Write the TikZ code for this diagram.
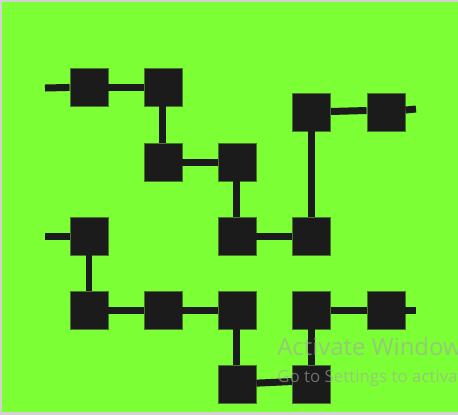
\documentclass[tikz,border=0pt]{standalone}
\usepackage{fontspec}
\newfontfamily\wmfont{Open Sans}
\definecolor{boardgreen}{RGB}{124,255,52}
\definecolor{blockblack}{RGB}{27,27,27}
\definecolor{blockedge}{RGB}{70,120,45}
\definecolor{wmgray}{RGB}{165,165,165}
\begin{document}
\begin{tikzpicture}[x=0.02cm, y=-0.02cm,
  blk/.style   = {draw=blockedge, fill=blockblack, line width=0.5pt,
                  minimum size=0.76cm, inner sep=0pt},
  link/.style  = {draw=blockblack, line width=0.14cm},
  wmark/.style = {text=wmgray, text opacity=0.6, anchor=base west, inner sep=0pt},
]

\useasboundingbox (0,0) rectangle (458,414);
\fill[boardgreen] (0,0) rectangle (458,414);
\draw[gray!35, line width=1.2pt] (458,0.5) -- (0.5,0.5) -- (0.5,413.5) -- (458,413.5);

\foreach \name/\cx/\cy in {a/89/87, b/163/87, c/163/162, d/237/162,
                           e/311.5/112, f/386/112, g/89/236, h/237/236,
                           i/311.5/236, j/89/310, k/163/310, l/237/310,
                           m/311.5/310, n/386/310, o/237/384, p/311.5/384}{
  \node[blk] (\name) at (\cx,\cy) {};
}

\coordinate (aIn)  at (45,88);
\coordinate (gIn)  at (45,236);
\coordinate (fOut) at (416,109);
\coordinate (nOut) at (416,310);

\foreach \s/\t in {a/b, b/c, c/d, d/h, h/i, i/e, g/j, j/k, k/l, l/o, m/p, m/n}{
  \draw[link] (\s) -- (\t);
}
\draw[link] (aIn) -- (a);
\draw[link] (gIn) -- (g);
\draw[link] (e) -- ([yshift=0.85pt]f.west);
\draw[link] (f) -- (fOut);
\draw[link] (n) -- (nOut);
\draw[link] (o) -- ([yshift=1.4pt]p.west);

\begin{scope}
  \clip (0,0) rectangle (458,414);
  \node[wmark, font=\wmfont\fontsize{13.6}{16}\selectfont] (wm1) at (277,355) {Activate Windows};
  \node[wmark, font=\wmfont\fontsize{9.6}{12}\selectfont] (wm2) at (277,382) {Go to Settings to activate Windows.};
\end{scope}

\end{tikzpicture}
\end{document}
